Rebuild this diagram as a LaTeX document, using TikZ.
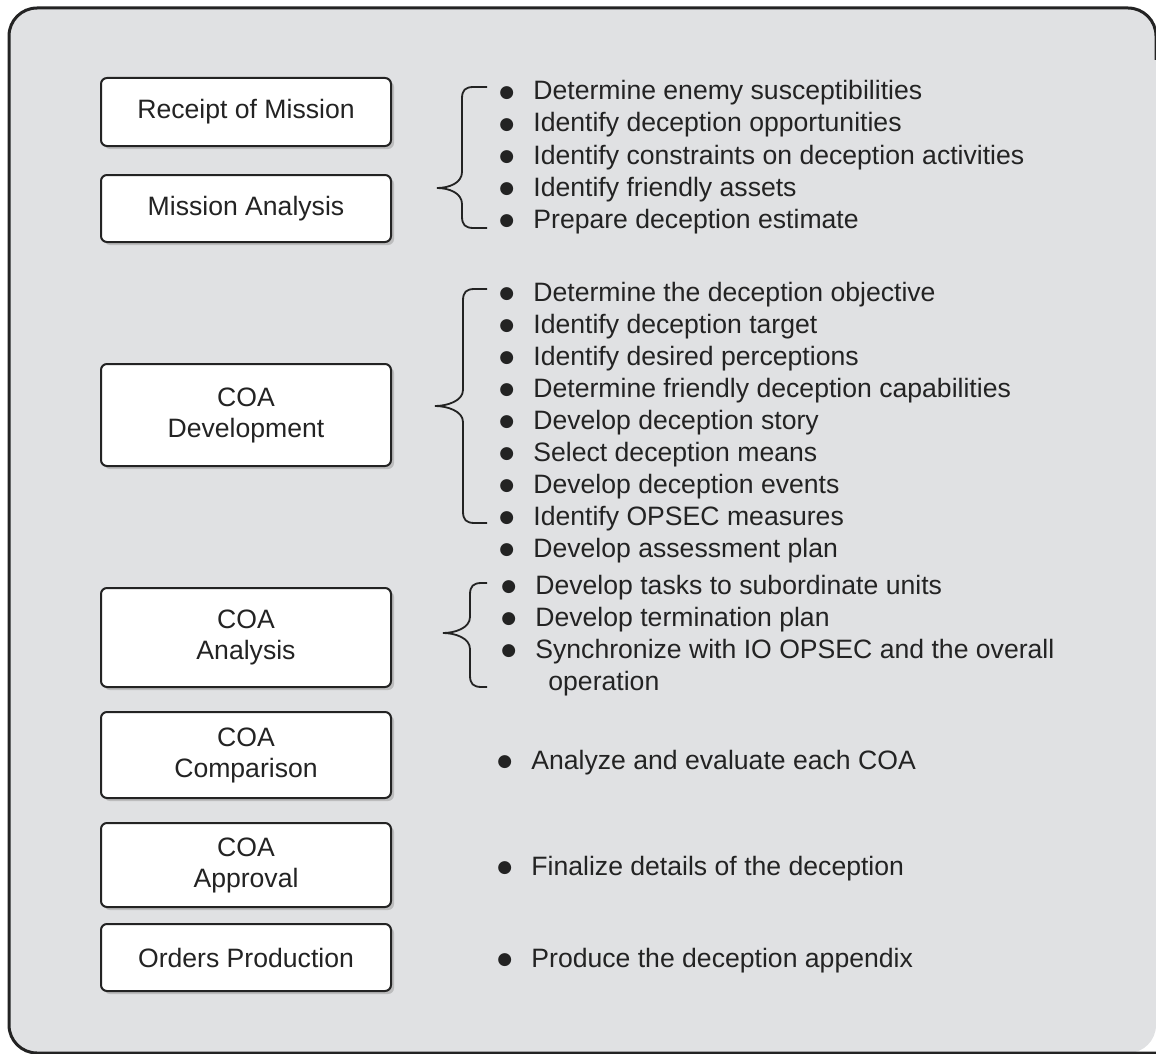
\documentclass[tikz,border=0pt]{standalone}
\usepackage{fontspec}
\setmainfont{Liberation Sans}
\newfontfamily\dotfont{DejaVu Sans}
\usetikzlibrary{shadows}

\definecolor{panelgray}{RGB}{224,225,227}
\definecolor{inkgray}{RGB}{35,35,35}

\tikzset{
  stage/.style={draw=inkgray, fill=white, line width=1pt, rounded corners=3pt,
    minimum width=145pt, inner sep=2pt, align=center, text=inkgray,
    drop shadow={shadow xshift=1.5pt, shadow yshift=-1.5pt, fill=black!40, opacity=.5}},
  item/.style={anchor=base west, inner sep=0pt, text=inkgray},
  curly/.style={line width=0.9pt, draw=inkgray},
}
% bullet hung to the left of the text
\newcommand{\bul}{\llap{\raisebox{1.2pt}{\dotfont\fontsize{8.5}{8.5}\selectfont ●}\hspace{9.6pt}}}
% brace: end x, spine x, tip x, top y, tip y, bottom y
\newcommand{\curlybrace}[6]{%
  \draw[curly] (#1,#4) -- (#2+12,#4) .. controls (#2+3,#4) and (#2,#4+3) .. (#2,#4+12)
    -- (#2,#5-16) .. controls (#2,#5-5) and (#3+12,#5) .. (#3,#5)
    .. controls (#3+12,#5) and (#2,#5+5) .. (#2,#5+16)
    -- (#2,#6-12) .. controls (#2,#6-3) and (#2+3,#6) .. (#2+12,#6) -- (#1,#6);}

\begin{document}
\begin{tikzpicture}[x=0.5pt,y=-0.5pt,font=\fontsize{13.3}{15.5}\selectfont]
  \useasboundingbox (0,0) rectangle (1156,1054);
  \clip (0,0) rectangle (1156,1054);
  % panel, open on the right
  \fill[panelgray, rounded corners=14pt] (9,8) rectangle (1156,1053);
  \draw[inkgray, line width=1.5pt, rounded corners=14pt] (1156,60) |- (9,8) |- (1156,1053);

  % planning steps
  \node[stage, minimum height=34pt]   (rcpt)    at (246,112)   {Receipt of Mission};
  \node[stage, minimum height=33.5pt] (msna)    at (246,208.5) {Mission Analysis};
  \node[stage, minimum height=51pt]   (coadev)  at (246,415)   {COA\\Development};
  \node[stage, minimum height=49.5pt] (coaana)  at (246,637.5) {COA\\Analysis};
  \node[stage, minimum height=43pt]   (coacmp)  at (246,755)   {COA\\Comparison};
  \node[stage, minimum height=42pt]   (coaapp)  at (246,865)   {COA\\Approval};
  \node[stage, minimum height=33.5pt] (ordprod) at (246,957.5) {Orders Production};

  % mission analysis tasks
  \node[item] (ma1) at (533,100) {\bul Determine enemy susceptibilities};
  \node[item] (ma2) at (533,132) {\bul Identify deception opportunities};
  \node[item] (ma3) at (533,164) {\bul Identify constraints on deception activities};
  \node[item] (ma4) at (533,196) {\bul Identify friendly assets};
  \node[item] (ma5) at (533,228) {\bul Prepare deception estimate};
  \curlybrace{487}{462}{437}{87}{188}{228}

  % COA development tasks
  \node[item] (cd1) at (533,301) {\bul Determine the deception objective};
  \node[item] (cd2) at (533,333) {\bul Identify deception target};
  \node[item] (cd3) at (533,365) {\bul Identify desired perceptions};
  \node[item] (cd4) at (533,397) {\bul Determine friendly deception capabilities};
  \node[item] (cd5) at (533,429) {\bul Develop deception story};
  \node[item] (cd6) at (533,461) {\bul Select deception means};
  \node[item] (cd7) at (533,493) {\bul Develop deception events};
  \node[item] (cd8) at (533,525) {\bul Identify OPSEC measures};
  \node[item] (cd9) at (533,557) {\bul Develop assessment plan};
  \curlybrace{487}{463}{435}{289}{406}{523}

  % COA analysis tasks
  \node[item] (ca1) at (535,594) {\bul Develop tasks to subordinate units};
  \node[item] (ca2) at (535,626) {\bul Develop termination plan};
  \node[item] (ca3) at (535,658) {\bul Synchronize with IO OPSEC and the overall};
  \node[item] (ca4) at (548,690) {operation};
  \curlybrace{487}{470}{443}{583}{633}{687}

  % remaining steps
  \node[item] (cc1) at (531,769) {\bul Analyze and evaluate each COA};
  \node[item] (cp1) at (531,875) {\bul Finalize details of the deception};
  \node[item] (op1) at (531,967) {\bul Produce the deception appendix};
\end{tikzpicture}
\end{document}
